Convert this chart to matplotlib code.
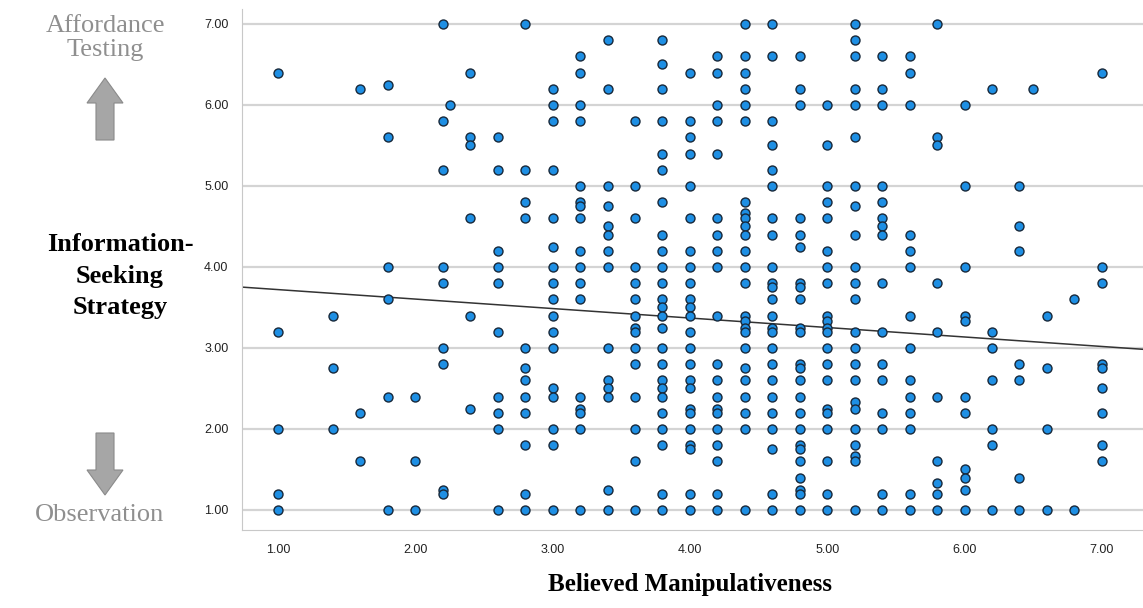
import numpy as np
import matplotlib
matplotlib.use("Agg")
import matplotlib.pyplot as plt
from matplotlib.patches import Polygon

# x position of each column of points (Believed Manipulativeness)
col_x = [1.0, 1.4, 1.6, 1.8, 2.0, 2.2, 2.25, 2.4, 2.6, 2.8, 3.0, 3.2, 3.4, 3.6,
         3.8, 4.0, 4.2, 4.4, 4.6, 4.8, 5.0, 5.2, 5.4, 5.6, 5.8, 6.0, 6.2, 6.4,
         6.5, 6.6, 6.8, 7.0]
# Information-Seeking Strategy values in each column
col_y = [
    [6.40, 3.20, 2.00, 1.20, 1.00],
    [3.40, 2.75, 2.00],
    [6.20, 2.20, 1.60],
    [6.25, 5.60, 4.00, 3.60, 2.40, 1.00],
    [2.40, 1.60, 1.00],
    [7.00, 5.80, 5.20, 4.00, 3.80, 3.00, 2.80, 1.25, 1.20],
    [6.00],
    [6.40, 5.60, 5.50, 4.60, 3.40, 2.25],
    [5.60, 5.20, 4.20, 4.00, 3.80, 3.20, 2.40, 2.20, 2.00, 1.00],
    [7.00, 5.20, 4.80, 4.60, 3.00, 2.75, 2.60, 2.40, 2.20, 1.80, 1.20, 1.00],
    [6.20, 6.00, 5.80, 5.20, 4.60, 4.25, 4.00, 3.80, 3.60, 3.40, 3.20, 3.00,
     2.50, 2.40, 2.00, 1.80, 1.00],
    [6.60, 6.40, 6.00, 5.80, 5.00, 4.80, 4.75, 4.60, 4.20, 4.00, 3.80, 3.60,
     2.40, 2.25, 2.20, 2.00, 1.00],
    [6.80, 6.20, 5.00, 4.75, 4.50, 4.40, 4.20, 4.00, 3.00, 2.60, 2.50, 2.40,
     1.25, 1.00],
    [5.80, 5.00, 4.60, 4.00, 3.80, 3.60, 3.40, 3.25, 3.20, 3.00, 2.80, 2.40,
     2.00, 1.60, 1.00],
    [6.80, 6.50, 6.20, 5.80, 5.40, 5.20, 4.80, 4.40, 4.20, 4.00, 3.80, 3.60,
     3.50, 3.40, 3.25, 3.00, 2.80, 2.60, 2.50, 2.40, 2.20, 2.00, 1.80, 1.20,
     1.00],
    [6.40, 5.80, 5.60, 5.40, 5.00, 4.60, 4.20, 4.00, 3.80, 3.60, 3.50, 3.40,
     3.20, 3.00, 2.80, 2.60, 2.50, 2.25, 2.20, 2.00, 1.80, 1.75, 1.20, 1.00],
    [6.60, 6.40, 6.00, 5.80, 5.40, 4.60, 4.40, 4.20, 4.00, 3.40, 2.80, 2.60,
     2.40, 2.25, 2.20, 2.00, 1.80, 1.60, 1.20, 1.00],
    [7.00, 6.60, 6.40, 6.20, 6.00, 5.80, 4.80, 4.67, 4.60, 4.50, 4.40, 4.20,
     4.00, 3.80, 3.40, 3.33, 3.25, 3.20, 3.00, 2.75, 2.60, 2.40, 2.20, 2.00,
     1.00],
    [7.00, 6.60, 5.80, 5.50, 5.20, 5.00, 4.60, 4.40, 4.00, 3.80, 3.75, 3.60,
     3.40, 3.25, 3.20, 3.00, 2.80, 2.60, 2.40, 2.20, 2.00, 1.75, 1.20, 1.00],
    [6.60, 6.20, 6.00, 4.60, 4.40, 4.25, 3.80, 3.75, 3.60, 3.25, 3.20, 2.80,
     2.75, 2.60, 2.40, 2.20, 2.00, 1.80, 1.75, 1.60, 1.40, 1.25, 1.20, 1.00],
    [6.00, 5.50, 5.00, 4.80, 4.60, 4.20, 4.00, 3.80, 3.40, 3.33, 3.25, 3.20,
     3.00, 2.80, 2.60, 2.25, 2.20, 2.00, 1.60, 1.20, 1.00],
    [7.00, 6.80, 6.60, 6.20, 6.00, 5.60, 5.00, 4.75, 4.40, 4.00, 3.80, 3.60,
     3.20, 3.00, 2.80, 2.60, 2.33, 2.25, 2.00, 1.80, 1.67, 1.60, 1.00],
    [6.60, 6.20, 6.00, 5.00, 4.80, 4.60, 4.50, 4.40, 3.80, 3.20, 2.80, 2.60,
     2.20, 2.00, 1.20, 1.00],
    [6.60, 6.40, 6.00, 4.40, 4.20, 4.00, 3.40, 3.00, 2.60, 2.40, 2.20, 2.00,
     1.20, 1.00],
    [7.00, 5.60, 5.50, 3.80, 3.20, 2.40, 1.60, 1.33, 1.20, 1.00],
    [6.00, 5.00, 4.00, 3.40, 3.33, 2.40, 2.20, 1.50, 1.40, 1.25, 1.00],
    [6.20, 3.20, 3.00, 2.60, 2.00, 1.80, 1.00],
    [5.00, 4.50, 4.20, 2.80, 2.60, 1.40, 1.00],
    [6.20],
    [3.40, 2.75, 2.00, 1.00],
    [3.60, 1.00],
    [6.40, 4.00, 3.80, 2.80, 2.75, 2.50, 2.20, 1.80, 1.60],
]
ticks = [1.0, 2.0, 3.0, 4.0, 5.0, 6.0, 7.0]
# fit line as drawn in the original (intercept, slope)
fit_icpt, fit_slope = 3.837, -0.117

x = np.concatenate([[cx] * len(cy) for cx, cy in zip(col_x, col_y)])
y = np.concatenate(col_y)

fig = plt.figure(figsize=(11.43, 6.08), dpi=100)
ax = fig.add_axes([0.212, 0.128, 0.788, 0.858])

ax.set_axisbelow(True)
ax.grid(axis='y', color='#d4d4d4', linewidth=1.6)
ax.scatter(x, y, s=42, color='#1e8fe4', edgecolor='#17283a', linewidth=1.0,
           zorder=3)

xl = np.array([0.5, 7.5])
ax.plot(xl, fit_icpt + fit_slope * xl, color='#333333', linewidth=1.1,
        zorder=2)

ax.set_xlim(0.74, 7.30)
ax.set_ylim(0.75, 7.19)
ax.set_xticks(ticks)
ax.set_yticks(ticks)
ax.set_xticklabels(['%.2f' % t for t in ticks])
ax.set_yticklabels(['%.2f' % t for t in ticks])
ax.tick_params(length=0, labelsize=9, pad=10, labelcolor='#222222')
for lab in ax.get_xticklabels() + ax.get_yticklabels():
    lab.set_family('Liberation Sans')
for side in ['top', 'right']:
    ax.spines[side].set_visible(False)
ax.spines['left'].set_color('#c8c8c8')
ax.spines['bottom'].set_color('#c8c8c8')

serif = 'Liberation Serif'
gray = '#8f8f8f'
W, H = 1143, 608

def px(xp, yp):
    return xp / W, 1 - yp / H

fig.text(*px(105, 38), 'Affordance\nTesting', ha='center', va='center',
         fontsize=19, color=gray, family=serif, linespacing=1.15)
fig.text(*px(100, 515), 'Observation', ha='center', va='center',
         fontsize=19, color=gray, family=serif)
fig.text(*px(120, 276), 'Information-\nSeeking\nStrategy', ha='center',
         va='center', fontsize=19, fontweight='bold', family=serif,
         linespacing=1.45)
fig.text(*px(690, 585), 'Believed Manipulativeness', ha='center',
         va='center', fontsize=18, fontweight='bold', family=serif)

# block arrows (pixel outlines)
up = [(105, 78), (123, 103), (114, 103), (114, 140), (96, 140), (96, 103),
      (87, 103)]
down = [(105, 495), (123, 470), (114, 470), (114, 433), (96, 433), (96, 470),
        (87, 470)]
for shape in (up, down):
    fig.patches.append(Polygon([px(a, b) for a, b in shape], closed=True,
                               transform=fig.transFigure, facecolor='#a6a6a6',
                               edgecolor='#8a8a8a', linewidth=0.8))

fig.savefig('out.png', dpi=100)
